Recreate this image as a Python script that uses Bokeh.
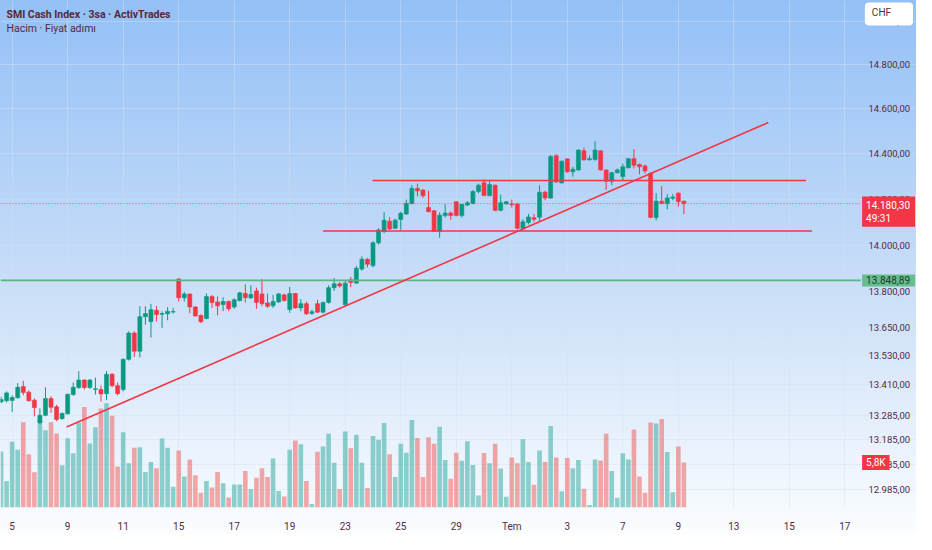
from bokeh.plotting import figure
from bokeh.models import (Range1d, LinearScale, FixedTicker, CustomJSTickFormatter,
                          Label, ColumnDataSource)
from bokeh.embed import file_html
from bokeh.resources import INLINE

# ---------------- data ----------------
opens = [13340, 13345, 13346, 13357, 13403, 13380, 13347, 13255, 13285, 13354,
         13320, 13271, 13291, 13370, 13399, 13430, 13399, 13391, 13391, 13374,
         13454, 13407, 13391, 13516, 13626, 13550, 13695, 13674, 13722, 13705,
         13707, 13715, 13855, 13775, 13791, 13736, 13700, 13687, 13780, 13757,
         13746, 13759, 13736, 13763, 13793, 13775, 13804, 13791, 13753, 13741,
         13757, 13787, 13725, 13793, 13732, 13750, 13709, 13750, 13714, 13755,
         13818, 13834, 13746, 13852, 13837, 13897, 13939, 13912, 14010, 14059,
         14104, 14073, 14111, 14135, 14181, 14247, 14240, 14163, 14149, 14060,
         14128, 14139, 14188, 14128, 14174, 14181, 14233, 14272, 14215, 14261,
         14151, 14179, 14179, 14179, 14073, 14098, 14119, 14121, 14230, 14205,
         14391, 14271, 14377, 14320, 14328, 14413, 14373, 14374, 14413, 14328,
         14278, 14316, 14299, 14338, 14378, 14352, 14346, 14313, 14120, 14191,
         14181, 14204, 14226, 14191]
highs = [13361, 13383, 13367, 13418, 13427, 13387, 13354, 13314, 13400, 13363,
         13328, 13297, 13374, 13420, 13467, 13434, 13434, 13440, 13407, 13467,
         13458, 13420, 13520, 13633, 13633, 13739, 13739, 13749, 13740, 13717,
         13735, 13731, 13859, 13800, 13793, 13739, 13705, 13793, 13787, 13780,
         13777, 13763, 13773, 13800, 13832, 13828, 13818, 13855, 13793, 13787,
         13796, 13793, 13821, 13796, 13769, 13759, 13725, 13766, 13759, 13828,
         13859, 13841, 13848, 13864, 13911, 13952, 13945, 14017, 14073, 14143,
         14122, 14115, 14145, 14198, 14261, 14268, 14243, 14237, 14151, 14142,
         14177, 14146, 14191, 14177, 14191, 14240, 14268, 14286, 14282, 14264,
         14219, 14191, 14198, 14184, 14112, 14136, 14136, 14261, 14237, 14394,
         14399, 14370, 14380, 14342, 14420, 14427, 14392, 14456, 14416, 14331,
         14320, 14335, 14356, 14380, 14420, 14356, 14352, 14318, 14226, 14257,
         14222, 14222, 14230, 14193]
lows = [13334, 13338, 13299, 13354, 13367, 13341, 13281, 13248, 13281, 13295,
        13261, 13268, 13288, 13365, 13394, 13391, 13394, 13370, 13341, 13347,
        13400, 13367, 13383, 13511, 13526, 13524, 13661, 13607, 13674, 13647,
        13680, 13708, 13759, 13759, 13709, 13695, 13668, 13684, 13732, 13700,
        13718, 13718, 13728, 13759, 13755, 13769, 13728, 13739, 13732, 13732,
        13753, 13759, 13711, 13728, 13718, 13702, 13702, 13711, 13709, 13750,
        13804, 13818, 13739, 13820, 13835, 13890, 13904, 13905, 14003, 14052,
        14066, 14070, 14066, 14131, 14177, 14212, 14205, 14142, 14059, 14032,
        14120, 14110, 14125, 14120, 14170, 14177, 14226, 14212, 14212, 14147,
        14147, 14177, 14163, 14068, 14064, 14089, 14101, 14101, 14195, 14201,
        14271, 14268, 14316, 14299, 14325, 14370, 14370, 14370, 14325, 14240,
        14261, 14313, 14278, 14335, 14335, 14309, 14313, 14116, 14107, 14177,
        14155, 14195, 14167, 14135]
closes = [13350, 13377, 13358, 13400, 13379, 13345, 13317, 13285, 13354, 13318,
          13268, 13292, 13371, 13400, 13430, 13399, 13430, 13394, 13373, 13454,
          13407, 13374, 13516, 13626, 13550, 13695, 13708, 13724, 13704, 13708,
          13717, 13716, 13775, 13791, 13736, 13698, 13673, 13780, 13755, 13741,
          13759, 13728, 13766, 13796, 13775, 13789, 13755, 13750, 13739, 13759,
          13791, 13763, 13793, 13732, 13750, 13707, 13716, 13714, 13755, 13818,
          13834, 13825, 13837, 13840, 13901, 13939, 13918, 14010, 14066, 14108,
          14070, 14108, 14138, 14181, 14247, 14236, 14215, 14145, 14060, 14130,
          14139, 14128, 14128, 14177, 14184, 14233, 14261, 14216, 14264, 14151,
          14184, 14188, 14175, 14073, 14101, 14122, 14112, 14230, 14205, 14388,
          14275, 14367, 14320, 14331, 14416, 14373, 14378, 14416, 14328, 14278,
          14316, 14328, 14342, 14378, 14349, 14342, 14324, 14120, 14191, 14181,
          14205, 14209, 14189, 14180.3]
volumes_k = [7.25, 3.42, 8.5, 7.46, 11.04, 6.88, 4.54, 11.33, 10.0, 11.04,
             9.58, 5.46, 8.96, 7.0, 11.0, 13.0, 8.29, 10.38, 12.8, 13.5,
             11.88, 5.29, 9.75, 5.71, 7.71, 7.79, 4.58, 5.88, 5.08, 8.92,
             7.71, 2.67, 7.38, 4.0, 6.21, 4.17, 1.88, 3.42, 2.58, 4.58,
             3.13, 1.29, 2.96, 2.96, 4.71, 2.38, 3.83, 5.08, 3.92, 6.33,
             2.13, 1.42, 7.46, 8.67, 8.17, 3.42, 0.42, 7.21, 7.88, 9.54,
             5.79, 2.38, 9.83, 7.67, 9.42, 5.79, 2.5, 9.25, 8.75, 10.92,
             6.88, 3.92, 8.25, 7.08, 11.33, 9.0, 3.92, 9.08, 8.25, 10.46,
             6.13, 3.71, 7.08, 6.04, 8.58, 5.5, 1.54, 7.04, 5.71, 8.25,
             5.04, 1.38, 6.46, 5.71, 8.83, 5.88, 2.92, 7.38, 5.88, 10.54,
             6.46, 2.08, 6.38, 5.08, 6.13, 2.42, 0.29, 6.21, 6.08, 9.54,
             4.71, 1.25, 7.0, 6.21, 10.08, 4.0, 1.88, 11.0, 10.88, 11.46,
             7.17, 1.96, 7.88, 5.8]

x_tick_pos = [2, 12, 22, 32, 42, 52, 62, 72, 82, 92, 102, 112, 122, 132, 142, 152]
x_tick_labels = ["5", "9", "11", "15", "17", "19", "23", "25", "29", "Tem",
                 "3", "7", "9", "13", "15", "17"]
y_ticks = [12985, 13085, 13185, 13285, 13410, 13530, 13650, 13800,
           14000, 14200, 14400, 14600, 14800, 15000]

trend_x = [11.8, 138.2]
trend_price = [13237, 14539]
resistance_x = [66.9, 145.0]
resistance_price = 14281.5
support_x = [58.0, 146.1]
support_price = 14061
ref_price = 13848.89
last_price = 14180.30
last_volume_k = 5.8
countdown = "49:31"
currency = "CHF"
title_text = "SMI Cash Index · 3sa · ActivTrades"
subtitle_text = "Hacim · Fiyat adımı"

# ---------------- styles / layout ----------------
UP = "#089981"
DOWN = "#f23645"
VOL_UP = "#26a69a"
VOL_DOWN = "#ef5350"
TXT = "#55293a"
FONT = "Roboto"
X_START, X_DATA_END, X_END = -0.1, 153.9, 164.9   # price scale lives right of X_DATA_END
LABEL_X = 155.1


def fmt_price(v):
    s = f"{v:,.2f}"
    return s.replace(",", "X").replace(".", ",").replace("X", ".")


n = len(closes)
xs = list(range(n))
up = [c >= o for o, c in zip(opens, closes)]
src = ColumnDataSource(dict(
    x=xs, high=highs, low=lows,
    btop=[max(o, c) for o, c in zip(opens, closes)],
    bbot=[min(o, c) for o, c in zip(opens, closes)],
    color=[UP if u else DOWN for u in up],
    vcolor=[VOL_UP if u else VOL_DOWN for u in up],
    vol=volumes_k,
))

p = figure(width=916, height=534,
           x_range=Range1d(X_START, X_END), y_range=Range1d(12909, 15096),
           y_axis_type="log", y_axis_location="right",
           output_backend="svg", toolbar_location=None,
           min_border_left=0, min_border_top=0, min_border_right=0, min_border_bottom=23)
p.extra_y_ranges = {"vol": Range1d(-0.15, 65.7)}
p.extra_y_scales = {"vol": LinearScale()}

p.background_fill_color = None
p.border_fill_color = None
p.outline_line_color = None
p.styles = {"background": "linear-gradient(to bottom, #93c0f6 0%, #c6dcf8 50%, #fbfdff 100%)"}

# axes
p.yaxis.fixed_location = X_DATA_END
p.yaxis.ticker = FixedTicker(ticks=y_ticks, minor_ticks=[])
p.yaxis.formatter = CustomJSTickFormatter(code=r"""
const s = Math.round(tick).toString().replace(/\B(?=(\d{3})+(?!\d))/g, '.');
return s + ',00';
""")
p.xaxis.ticker = FixedTicker(ticks=x_tick_pos, minor_ticks=[])
p.xaxis.major_label_overrides = dict(zip(x_tick_pos, x_tick_labels))
for ax in (p.xaxis, p.yaxis):
    ax.axis_line_color = None
    ax.major_tick_line_color = None
    ax.minor_tick_line_color = None
    ax.major_label_text_color = TXT
    ax.major_label_text_font = FONT
    ax.major_label_text_font_size = "10px"
p.yaxis.major_label_text_font_size = "9.5px"
p.yaxis.major_label_standoff = 7
p.xaxis.major_label_standoff = 6

p.xgrid.grid_line_color = "#d4e1f2"
p.ygrid.grid_line_color = "#d4e1f2"
p.xgrid.grid_line_alpha = 0.45
p.ygrid.grid_line_alpha = 0.45

# volume
p.vbar(x="x", width=0.83, top="vol", bottom=0, source=src, y_range_name="vol",
       fill_color="vcolor", fill_alpha=0.5, line_color=None)

# candles
p.segment(x0="x", y0="low", x1="x", y1="high", source=src, line_color="color", line_width=1)
p.vbar(x="x", width=0.72, top="btop", bottom="bbot", source=src,
       fill_color="color", line_color="color", line_width=0.6)

# drawings
p.line([X_START, X_DATA_END + 1.0], [ref_price] * 2, line_color="#5cb684", line_width=1.6)
p.line([X_START, X_DATA_END + 1.0], [last_price] * 2, line_color=DOWN,
       line_width=1, line_dash="1 2", line_alpha=0.8)
p.line(trend_x, trend_price, line_color=DOWN, line_width=1.6)
p.line(resistance_x, [resistance_price] * 2, line_color=DOWN, line_width=1.6)
p.line(support_x, [support_price] * 2, line_color=DOWN, line_width=1.6)

# texts
p.add_layout(Label(x=0.98, y=15031, text=title_text, text_font=FONT, text_font_style="bold",
                   text_font_size="10.5px", text_color=TXT, text_baseline="middle"))
p.add_layout(Label(x=0.98, y=14967, text=subtitle_text, text_font=FONT,
                   text_font_size="10.5px", text_color=TXT, text_baseline="middle"))

p.add_layout(Label(x=155.6, y=15033, text=currency, text_font=FONT, text_font_size="10px",
                   text_color=TXT, text_baseline="middle", background_fill_color="white",
                   padding=dict(left=7, right=22, top=4, bottom=8), border_radius=4))
p.add_layout(Label(x=LABEL_X, y=last_price, text=fmt_price(last_price) + "\n" + countdown,
                   text_font=FONT, text_font_size="10px", text_color="white",
                   text_baseline="middle", y_offset=-8, background_fill_color=DOWN,
                   padding=dict(left=4, right=5, top=3, bottom=3)))
p.add_layout(Label(x=LABEL_X, y=ref_price, text=fmt_price(ref_price), text_font=FONT,
                   text_font_size="10px", text_color="#1f3a2c", text_baseline="middle",
                   background_fill_color="#66bd8d", padding=dict(left=4, right=5, top=2, bottom=2)))
p.add_layout(Label(x=LABEL_X, y=last_volume_k, y_range_name="vol",
                   text=f"{last_volume_k:.1f}".replace(".", ",") + "K", text_font=FONT,
                   text_font_size="10px", text_color="white", text_baseline="middle",
                   background_fill_color=DOWN, padding=dict(left=4, right=4, top=2, bottom=2)))

open("out.html", "w").write(file_html(p, INLINE))
